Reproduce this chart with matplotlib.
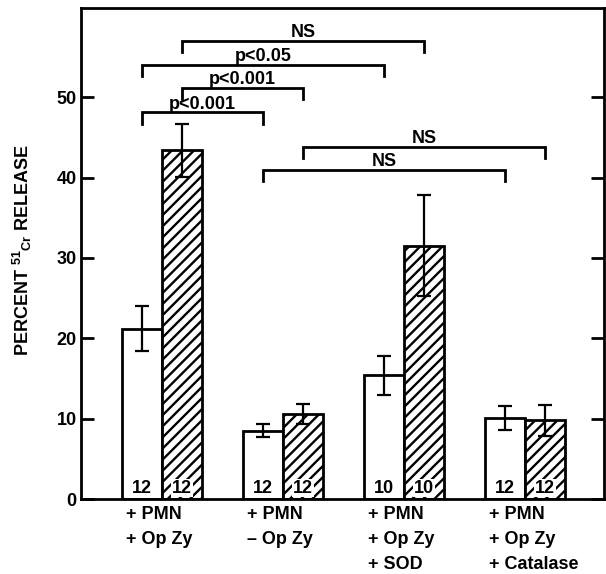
import matplotlib
matplotlib.use("Agg")
import matplotlib.pyplot as plt
import numpy as np

# ---------------- data ----------------
group_labels = ["+ PMN\n+ Op Zy", "+ PMN\n– Op Zy", "+ PMN\n+ Op Zy\n+ SOD", "+ PMN\n+ Op Zy\n+ Catalase"]
open_values = [21.2, 8.5, 15.4, 10.1]
open_errors = [2.8, 0.8, 2.45, 1.5]
hatched_values = [43.4, 10.6, 31.5, 9.8]
hatched_errors = [3.3, 1.25, 6.3, 1.95]
open_n = [12, 12, 10, 12]
hatched_n = [12, 12, 10, 12]
yticks = [0, 10, 20, 30, 40, 50]

# comparisons: (series a, group a), (series b, group b), bracket level, label
comparisons = [
    (("open", 0), ("open", 1), 48.1, "p<0.001"),
    (("hatched", 0), ("hatched", 1), 51.2, "p<0.001"),
    (("open", 0), ("open", 2), 54.0, "p<0.05"),
    (("hatched", 0), ("hatched", 2), 57.0, "NS"),
    (("hatched", 1), ("hatched", 3), 43.8, "NS"),
    (("open", 1), ("open", 3), 41.0, "NS"),
]

# ---------------- style ----------------
plt.rcParams["font.family"] = ["Liberation Sans", "DejaVu Sans"]
plt.rcParams["font.weight"] = "bold"
plt.rcParams["mathtext.fontset"] = "custom"
plt.rcParams["mathtext.rm"] = "Liberation Sans:bold"
plt.rcParams["mathtext.it"] = "Liberation Sans:bold"
plt.rcParams["mathtext.bf"] = "Liberation Sans:bold"
plt.rcParams["hatch.linewidth"] = 1.7
plt.rcParams["hatch.color"] = "black"

fig = plt.figure(figsize=(6.06, 5.74), dpi=100)
ax = fig.add_axes([81 / 606, 1 - 499 / 574, (604 - 81) / 606, (499 - 8) / 574])

x = np.arange(len(group_labels))
w = 0.33
x_open = x - w / 2
x_hatch = x + w / 2

ax.bar(x_open, open_values, width=w, facecolor="white", edgecolor="black",
       linewidth=2.0, zorder=2)
ax.bar(x_hatch, hatched_values, width=w, facecolor="white", edgecolor="black",
       linewidth=2.0, hatch="///", zorder=2)

ekw = dict(fmt="none", ecolor="black", elinewidth=1.6, capsize=5, capthick=1.6, zorder=3)
ax.errorbar(x_open, open_values, yerr=open_errors, **ekw)
ax.errorbar(x_hatch, hatched_values, yerr=hatched_errors, **ekw)

# counts at the bottom of each bar
for xi, n in zip(x_open, open_n):
    ax.text(xi, 0.8, str(n), ha="center", va="baseline", fontsize=13,
            fontweight="bold", zorder=4)
for xi, n in zip(x_hatch, hatched_n):
    ax.text(xi, 0.8, str(n), ha="center", va="baseline", fontsize=13,
            fontweight="bold", zorder=4,
            bbox=dict(facecolor="white", edgecolor="none", pad=0.5))

# significance brackets
centers = {"open": x_open, "hatched": x_hatch}
leg = 1.4
for (sa, ga), (sb, gb), level, label in comparisons:
    xa = centers[sa][ga]
    xb = centers[sb][gb]
    ax.plot([xa, xa, xb, xb], [level - leg, level, level, level - leg],
            color="black", linewidth=2.0, solid_joinstyle="miter", zorder=3,
            clip_on=False)
    ax.text((xa + xb) / 2, level + 0.45, label, ha="center", va="baseline",
            fontsize=13, fontweight="bold", zorder=4)

ax.set_xlim(-0.669, 3.653)
ax.set_ylim(0, 61.1)
ax.set_yticks(yticks)
ax.set_yticklabels([str(t) for t in yticks], fontsize=13, fontweight="bold")
ax.tick_params(axis="y", direction="in", length=9.5, width=2, pad=3,
               right=True, left=True)
ax.set_xticks(x_open - w / 2 + 0.03)
ax.set_xticklabels(group_labels, fontsize=13, fontweight="bold", ha="left",
                   linespacing=1.6)
ax.tick_params(axis="x", length=0, pad=5)
for s in ax.spines.values():
    s.set_linewidth(2.0)

fig.text(22 / 606, 1 - 250 / 574, r"PERCENT $^{51}{}_{Cr}$ RELEASE",
         rotation=90, ha="center", va="center", fontsize=13, fontweight="bold")

fig.savefig("out.png", dpi=100, facecolor="white")
